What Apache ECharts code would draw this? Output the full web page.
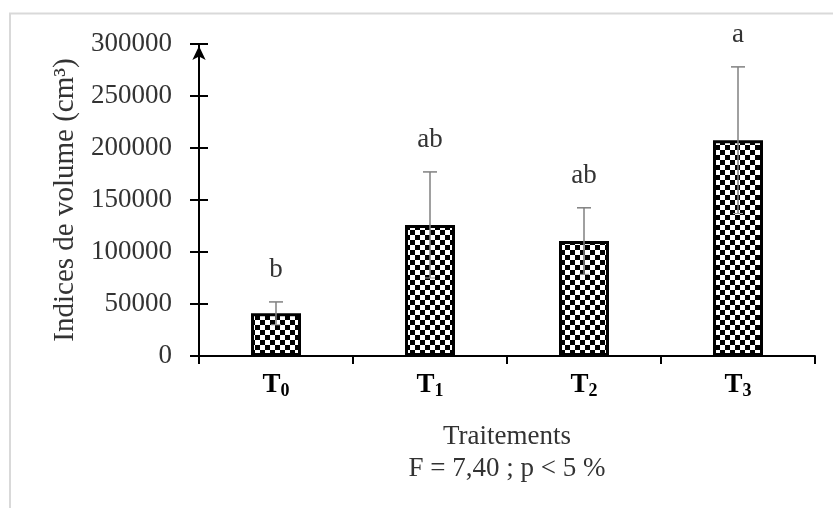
<!DOCTYPE html>
<html>
<head>
<meta charset="utf-8">
<script src="https://cdn.jsdelivr.net/npm/echarts@6/dist/echarts.min.js"></script>
<style>
html,body{margin:0;padding:0;background:#fff;}
#chart{width:833px;height:508px;}
</style>
</head>
<body>
<div id="chart"></div>
<script>
// ---- data ----
const categories = ['0', '1', '2', '3'];           // subscripts of T
const means = [41000, 126000, 110500, 207500];
const errors = [11000, 51000, 32000, 70500];
const letters = ['b', 'ab', 'ab', 'a'];
const yTicks = [0, 50000, 100000, 150000, 200000, 250000, 300000];
const yAxisTitle = 'Indices de volume (cm³)';
const xAxisTitle = 'Traitements';
const statText = 'F = 7,40 ; p < 5 %';

// ---- checkerboard pattern ----
const pc = document.createElement('canvas');
pc.width = 10; pc.height = 10;
const ctx = pc.getContext('2d');
ctx.fillStyle = '#ffffff'; ctx.fillRect(0, 0, 10, 10);
ctx.fillStyle = '#000000';
ctx.fillRect(0, 0, 5, 5);
ctx.fillRect(5, 5, 5, 5);

const FONT = '"Liberation Serif", "Times New Roman", serif';
const FS = 27;
const chart = echarts.init(document.getElementById('chart'), null, {renderer: 'canvas'});

const option = {
  animation: false,
  backgroundColor: '#ffffff',
  grid: {left: 199, right: 18, top: 44, bottom: 152},
  xAxis: {
    type: 'category',
    data: categories,
    boundaryGap: true,
    axisLine: {lineStyle: {color: '#000', width: 2}},
    axisTick: {show: true, length: 8, lineStyle: {color: '#000', width: 2}},
    axisLabel: {
      margin: 14,
      formatter: v => '{t|T}{s|' + v + '}',
      rich: {
        t: {fontFamily: FONT, fontWeight: 'bold', fontSize: 27, color: '#000'},
        s: {fontFamily: FONT, fontWeight: 'bold', fontSize: 18, color: '#000', verticalAlign: 'bottom', padding: [12, 0, 0, 0]}
      }
    },
    name: '{a|' + xAxisTitle + '}\n{b|' + statText + '}',
    nameLocation: 'middle',
    nameGap: 65,
    nameTextStyle: {
      rich: {
        a: {fontFamily: FONT, fontSize: FS, color: '#333', lineHeight: 32, align: 'center'},
        b: {fontFamily: FONT, fontSize: FS, color: '#333', lineHeight: 32, align: 'center'}
      }
    }
  },
  yAxis: [{
    type: 'value',
    min: yTicks[0],
    max: yTicks[yTicks.length - 1],
    interval: yTicks[1] - yTicks[0],
    splitLine: {show: false},
    axisLine: {show: true, symbol: ['none', 'arrow'], symbolSize: [10, 14], symbolOffset: [0, -2], lineStyle: {color: '#000', width: 2}},
    axisTick: {show: true, length: 9, lineStyle: {color: '#000', width: 2}},
    axisLabel: {margin: 27, fontFamily: FONT, fontSize: FS, color: '#333', formatter: v => String(v)},
    name: yAxisTitle,
    nameLocation: 'middle',
    nameGap: 132,
    nameRotate: 90,
    nameTextStyle: {fontFamily: FONT, fontSize: 29, color: '#333', verticalAlign: 'middle'}
  }, {
    type: 'value',
    position: 'left',
    min: yTicks[0],
    max: yTicks[yTicks.length - 1],
    interval: yTicks[1] - yTicks[0],
    splitLine: {show: false},
    axisLine: {show: false},
    axisTick: {show: true, inside: true, length: 9, lineStyle: {color: '#000', width: 2}},
    axisLabel: {show: false}
  }],
  series: [{
    type: 'bar',
    data: means,
    barWidth: 50,
    itemStyle: {
      color: {image: pc, repeat: 'repeat'},
      borderColor: '#000',
      borderWidth: 3
    }
  }, {
    type: 'custom',
    data: means.map((m, i) => [i, m, errors[i]]),
    renderItem: function (params, api) {
      const i = api.value(0), m = api.value(1), e = api.value(2);
      const top = api.coord([i, m + e]);
      const bot = api.coord([i, m - e]);
      const x = top[0];
      const st = {stroke: '#808080', lineWidth: 1.5};
      return {
        type: 'group',
        children: [
          {type: 'line', shape: {x1: x, y1: top[1], x2: x, y2: bot[1]}, style: st},
          {type: 'line', shape: {x1: x - 7, y1: top[1], x2: x + 7, y2: top[1]}, style: st},
          {type: 'line', shape: {x1: x - 5, y1: bot[1], x2: x + 5, y2: bot[1]}, style: {stroke: '#9a9a9a', lineWidth: 1}},
          {type: 'text', x: x, y: top[1] - 32, style: {text: letters[params.dataIndex], fill: '#333', font: FS + 'px ' + FONT, align: 'center', verticalAlign: 'middle'}}
        ]
      };
    },
    z: 5
  }],
  graphic: [
    {type: 'line', shape: {x1: 9, y1: 13.5, x2: 833, y2: 13.5}, style: {stroke: '#d9d9d9', lineWidth: 2}, silent: true},
    {type: 'line', shape: {x1: 10, y1: 13, x2: 10, y2: 508}, style: {stroke: '#d9d9d9', lineWidth: 2}, silent: true}
  ]
};
chart.setOption(option);
</script>
</body>
</html>
